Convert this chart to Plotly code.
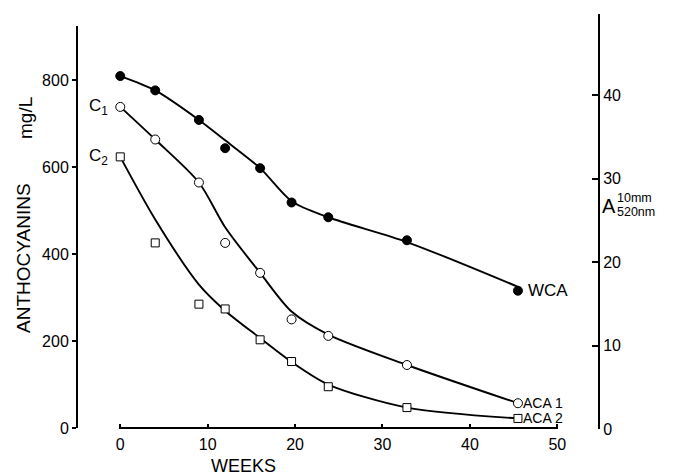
import plotly.graph_objects as go

# ---- data ----
weeks = [0, 4, 9, 12, 16, 19.6, 23.8, 32.8, 45.5]
wca = [810, 777, 709, 644, 598, 519, 485, 432, 316]
aca1 = [739, 664, 565, 426, 357, 250, 212, 145, 57]
aca2 = [624, 426, 285, 274, 203, 153, 95, 47, 22]

# hand-drawn smoothing curves (knots)
curve_weeks = [0, 4, 9, 12, 16, 19.6, 23.8, 32.8, 45.5]
wca_curve = [810, 777, 709, 662, 598, 522, 485, 428, 325]
aca1_curve = [739, 664, 565, 462, 357, 268, 215, 145, 57]
aca2_curve = [624, 480, 330, 270, 207, 152, 100, 47, 22]

x_ticks = [0, 10, 20, 30, 40, 50]
left_ticks = [0, 200, 400, 600, 800]
right_ticks = [0, 10, 20, 30, 40]

FONT = "Liberation Sans"
LW = 1.9

fig = go.Figure()

for cy in (wca_curve, aca1_curve, aca2_curve):
    fig.add_trace(go.Scatter(x=curve_weeks, y=cy, mode="lines",
                             line=dict(color="black", width=LW, shape="spline", smoothing=0.8),
                             hoverinfo="skip", showlegend=False, cliponaxis=False))

fig.add_trace(go.Scatter(x=weeks, y=wca, mode="markers", name="WCA",
                         marker=dict(symbol="circle", size=9, color="black",
                                     line=dict(color="black", width=1)),
                         showlegend=False, cliponaxis=False))
fig.add_trace(go.Scatter(x=weeks, y=aca1, mode="markers", name="ACA 1",
                         marker=dict(symbol="circle", size=9, color="white",
                                     line=dict(color="black", width=1)),
                         showlegend=False, cliponaxis=False))
fig.add_trace(go.Scatter(x=weeks, y=aca2, mode="markers", name="ACA 2",
                         marker=dict(symbol="square", size=8, color="white",
                                     line=dict(color="black", width=1)),
                         showlegend=False, cliponaxis=False))
# invisible trace so the right axis is drawn
fig.add_trace(go.Scatter(x=[0], y=[0], yaxis="y2", mode="markers",
                         marker=dict(opacity=0), hoverinfo="skip", showlegend=False))

# page body has an 8px margin: figure is 667x467 so it fills the 675x475 window
fig.update_layout(
    width=667, height=467, autosize=False,
    margin=dict(l=69, r=77, t=6, b=46),
    paper_bgcolor="white", plot_bgcolor="white",
    font=dict(family=FONT, color="black", size=16),
    xaxis=dict(range=[-4.95, 54.66], tickvals=x_ticks, ticks="inside", ticklen=5,
               tickwidth=1.5, tickcolor="black", showline=False, showgrid=False,
               zeroline=False, ticklabelstandoff=4, tickfont=dict(size=16, family=FONT)),
    yaxis=dict(range=[-2.3, 952.8], tickvals=left_ticks, ticks="outside", ticklen=4,
               tickwidth=1.5, tickcolor="black", showline=False, showgrid=False,
               zeroline=False, tickfont=dict(size=16, family=FONT)),
    yaxis2=dict(range=[0, 49.7], tickvals=right_ticks, ticks="inside", ticklen=6,
                tickwidth=1.5, tickcolor="black", overlaying="y", side="right",
                showline=True, linewidth=2, linecolor="black", showgrid=False,
                zeroline=False, tickfont=dict(size=16, family=FONT)),
    shapes=[
        dict(type="line", xref="paper", yref="y", x0=0, x1=0, y0=0, y1=925,
             line=dict(color="black", width=2)),
        dict(type="line", xref="x", yref="y", x0=0, x1=50, y0=0, y1=0,
             line=dict(color="black", width=2)),
    ],
)

PW, PH = 521.0, 415.0


def px(xs):
    # screen x -> paper fraction
    return (xs - 77) / PW


def py(ys):
    # screen y -> paper fraction
    return (429 - ys) / PH


ann = []
# axis titles
ann.append(dict(text="ANTHOCYANINS", xref="paper", yref="paper", x=px(24), y=py(258),
                xanchor="center", yanchor="middle",
                textangle=-90, showarrow=False, font=dict(size=19, family=FONT)))
ann.append(dict(text="mg/L", xref="paper", yref="paper", x=px(26), y=py(118),
                xanchor="center", yanchor="middle",
                textangle=-90, showarrow=False, font=dict(size=19, family=FONT)))
ann.append(dict(text="WEEKS", xref="paper", yref="paper", x=px(243), y=py(466),
                xanchor="center", yanchor="middle",
                showarrow=False, font=dict(size=18, family=FONT)))
# right axis title A 10mm / 520nm
ann.append(dict(text="A", xref="paper", yref="paper", x=px(608.5), y=py(206),
                xanchor="center", yanchor="middle",
                showarrow=False, font=dict(size=20, family=FONT)))
ann.append(dict(text="10mm", xref="paper", yref="paper", x=px(615), y=py(198),
                xanchor="left", yanchor="middle", showarrow=False, font=dict(size=12.5, family=FONT)))
ann.append(dict(text="520nm", xref="paper", yref="paper", x=px(615), y=py(212),
                xanchor="left", yanchor="middle", showarrow=False, font=dict(size=12.5, family=FONT)))
# series labels
ann.append(dict(text="WCA", x=46.4, y=wca[-1], xanchor="left", yanchor="middle", showarrow=False,
                font=dict(size=17, family=FONT)))
ann.append(dict(text="ACA 1", x=45.9, y=aca1[-1], xanchor="left", yanchor="middle", showarrow=False,
                font=dict(size=14, family=FONT)))
ann.append(dict(text="ACA 2", x=45.9, y=aca2[-1], xanchor="left", yanchor="middle", showarrow=False,
                font=dict(size=14, family=FONT)))
ann.append(dict(text="C<sub>1</sub>", x=-1.2, y=aca1[0], xanchor="right", yanchor="middle",
                showarrow=False, font=dict(size=17, family=FONT)))
ann.append(dict(text="C<sub>2</sub>", x=-1.2, y=aca2[0], xanchor="right", yanchor="middle",
                showarrow=False, font=dict(size=17, family=FONT)))
fig.update_layout(annotations=ann)

fig.write_html("out.html")
